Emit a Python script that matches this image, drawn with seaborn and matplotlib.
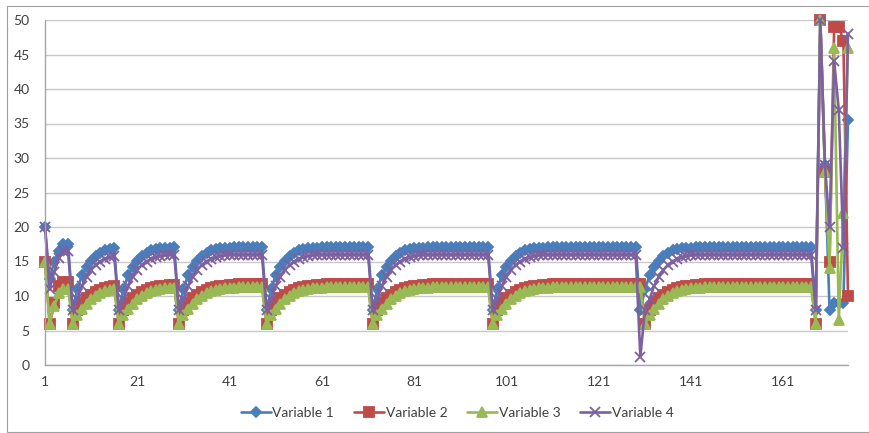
import matplotlib
matplotlib.use("Agg")
import matplotlib.pyplot as plt
import seaborn as sns
from matplotlib.patches import Rectangle


# ==========================================
# DATA
# ==========================================

variable_1 = [
    20,
    12.5, 15, 16.5, 17.5, 17.5,
    8, 11, 13, 14.2, 15.1, 15.8, 16.3, 16.6, 16.8, 16.9,
    8, 11, 13, 14.2, 15.1, 15.8, 16.3, 16.6, 16.8, 16.9, 17.0, 17.0, 17.1,
    8, 11, 13, 14.2, 15.1, 15.8, 16.3, 16.6, 16.8, 16.9, 17.0, 17.0, 17.1,
    17.1, 17.1, 17.1, 17.1, 17.1, 17.1,
    8, 11, 13, 14.2, 15.1, 15.8, 16.3, 16.6, 16.8, 16.9, 17.0, 17.0, 17.1,
    17.1, 17.1, 17.1, 17.1, 17.1, 17.1, 17.1, 17.1, 17.1, 17.1,
    8, 11, 13, 14.2, 15.1, 15.8, 16.3, 16.6, 16.8, 16.9, 17.0, 17.0, 17.1,
    17.1, 17.1, 17.1, 17.1, 17.1, 17.1, 17.1, 17.1, 17.1, 17.1, 17.1, 17.1, 17.1,
    8, 11, 13, 14.2, 15.1, 15.8, 16.3, 16.6, 16.8, 16.9, 17.0, 17.0, 17.1,
    17.1, 17.1, 17.1, 17.1, 17.1, 17.1, 17.1, 17.1, 17.1, 17.1,
    17.1, 17.1, 17.1, 17.1, 17.1, 17.1, 17.1, 17.1, 17.1,
    8, 11, 13, 14.2, 15.1, 15.8, 16.3, 16.6, 16.8, 16.9, 17.0, 17.0, 17.1,
    17.1, 17.1, 17.1, 17.1, 17.1, 17.1, 17.1, 17.1, 17.1, 17.1,
    17.1, 17.1, 17.1, 17.1, 17.1, 17.1, 17.1, 17.1, 17.1, 17.1,
    17.1, 17.1, 17.1, 17.1, 17.1,
    8, 50, 29, 8, 9, 9, 9, 35.5
]

variable_2 = [
    15,
    6, 9, 11.5, 12, 12,
    6, 8, 9, 9.7, 10.2, 10.6, 10.9, 11.1, 11.3, 11.4,
    6, 8, 9, 9.7, 10.2, 10.6, 10.9, 11.1, 11.3, 11.4, 11.5, 11.6, 11.6,
    6, 8, 9, 9.7, 10.2, 10.6, 10.9, 11.1, 11.3, 11.4, 11.5, 11.6, 11.6, 11.7,
    11.7, 11.7, 11.7, 11.7, 11.7,
    6, 8, 9, 9.7, 10.2, 10.6, 10.9, 11.1, 11.3, 11.4, 11.5, 11.6, 11.6, 11.7,
    11.7, 11.7, 11.7, 11.7, 11.7, 11.7, 11.7, 11.7, 11.7,
    6, 8, 9, 9.7, 10.2, 10.6, 10.9, 11.1, 11.3, 11.4, 11.5, 11.6, 11.6, 11.7,
    11.7, 11.7, 11.7, 11.7, 11.7, 11.7, 11.7, 11.7, 11.7, 11.7, 11.7, 11.7,
    6, 8, 9, 9.7, 10.2, 10.6, 10.9, 11.1, 11.3, 11.4, 11.5, 11.6, 11.6, 11.7,
    11.7, 11.7, 11.7, 11.7, 11.7, 11.7, 11.7, 11.7, 11.7,
    11.7, 11.7, 11.7, 11.7, 11.7, 11.7, 11.7, 11.7, 11.7,
    11.7,
    6, 8, 9, 9.7, 10.2, 10.6, 10.9, 11.1, 11.3, 11.4, 11.5, 11.6, 11.6, 11.7,
    11.7, 11.7, 11.7, 11.7, 11.7, 11.7, 11.7, 11.7, 11.7, 11.7,
    11.7, 11.7, 11.7, 11.7, 11.7, 11.7, 11.7, 11.7, 11.7, 11.7,
    11.7, 11.7, 11.7,
    6, 50, 28, 15, 49, 49, 47, 10
]

variable_3 = [
    15,
    6, 8.5, 10.5, 11, 11,
    6, 7.2, 8.1, 8.9, 9.5, 10, 10.4, 10.7, 10.9, 11.0,
    6, 7.2, 8.1, 8.9, 9.5, 10, 10.4, 10.7, 10.9, 11.0, 11.1, 11.2, 11.2,
    6, 7.2, 8.1, 8.9, 9.5, 10, 10.4, 10.7, 10.9, 11.0, 11.1, 11.2, 11.2, 11.3,
    11.3, 11.3, 11.3, 11.3, 11.3,
    6, 7.2, 8.1, 8.9, 9.5, 10, 10.4, 10.7, 10.9, 11.0, 11.1, 11.2, 11.2, 11.3,
    11.3, 11.3, 11.3, 11.3, 11.3, 11.3, 11.3, 11.3, 11.3,
    6, 7.2, 8.1, 8.9, 9.5, 10, 10.4, 10.7, 10.9, 11.0, 11.1, 11.2, 11.2, 11.3,
    11.3, 11.3, 11.3, 11.3, 11.3, 11.3, 11.3, 11.3, 11.3, 11.3, 11.3, 11.3,
    6, 7.2, 8.1, 8.9, 9.5, 10, 10.4, 10.7, 10.9, 11.0, 11.1, 11.2, 11.2, 11.3,
    11.3, 11.3, 11.3, 11.3, 11.3, 11.3, 11.3, 11.3, 11.3,
    11.3, 11.3, 11.3, 11.3, 11.3, 11.3, 11.3, 11.3, 11.3,
    11.3,
    6, 7.2, 8.1, 8.9, 9.5, 10, 10.4, 10.7, 10.9, 11.0, 11.1, 11.2, 11.2, 11.3,
    11.3, 11.3, 11.3, 11.3, 11.3, 11.3, 11.3, 11.3, 11.3, 11.3,
    11.3, 11.3, 11.3, 11.3, 11.3, 11.3, 11.3, 11.3, 11.3, 11.3,
    11.3, 11.3, 11.3,
    6, 50, 28, 14, 46, 6.5, 22, 46
]

variable_4 = [
    20,
    11, 13.5, 15.5, 16.5, 16.5,
    8, 9.5, 11.5, 12.8, 13.8, 14.5, 15.0, 15.4, 15.6, 15.8,
    8, 9.5, 11.5, 12.8, 13.8, 14.5, 15.0, 15.4, 15.6, 15.8, 15.9, 16.0, 16.0,
    8, 9.5, 11.5, 12.8, 13.8, 14.5, 15.0, 15.4, 15.6, 15.8, 15.9, 16.0, 16.0,
    16, 16, 16, 16, 16, 16,
    8, 9.5, 11.5, 12.8, 13.8, 14.5, 15.0, 15.4, 15.6, 15.8, 15.9, 16.0, 16.0,
    16, 16, 16, 16, 16, 16, 16, 16, 16, 16,
    8, 9.5, 11.5, 12.8, 13.8, 14.5, 15.0, 15.4, 15.6, 15.8, 15.9, 16.0, 16.0,
    16, 16, 16, 16, 16, 16, 16, 16, 16, 16, 16, 16, 16,
    8, 9.5, 11.5, 12.8, 13.8, 14.5, 15.0, 15.4, 15.6, 15.8, 15.9, 16.0, 16.0,
    16, 16, 16, 16, 16, 16, 16, 16, 16, 16,
    16, 16, 16, 16, 16, 16, 16, 16, 16,
    1.2,
    8, 9.5, 11.5, 12.8, 13.8, 14.5, 15.0, 15.4, 15.6, 15.8, 15.9, 16.0, 16.0,
    16, 16, 16, 16, 16, 16, 16, 16, 16, 16,
    16, 16, 16, 16, 16, 16, 16, 16, 16, 16,
    16, 16, 16, 16,
    8, 50, 29, 20, 44, 37, 17, 48
]

series_names = ["Variable 1", "Variable 2", "Variable 3", "Variable 4"]
series_colors = ["#4A7EBB", "#BE4B48", "#98B954", "#7D60A0"]
series_markers = ["D", "s", "^", "x"]
marker_sizes = [5.5, 6.5, 7, 7]

x_ticks = [1, 21, 41, 61, 81, 101, 121, 141, 161]
y_ticks = [0, 5, 10, 15, 20, 25, 30, 35, 40, 45, 50]

all_series = [variable_1, variable_2, variable_3, variable_4]

for s in all_series:
    assert len(s) == 175, len(s)


# ==========================================
# FIGURE
# ==========================================

sns.set_style("white")
plt.rcParams["font.family"] = ["Lato", "DejaVu Sans"]

fig = plt.figure(figsize=(8.7, 4.33), dpi=100)
ax = fig.add_axes([45 / 870, 1 - 365 / 433, 803 / 870, 345 / 433])

for values, name, color, marker, msize in zip(
    all_series, series_names, series_colors, series_markers, marker_sizes
):
    sns.lineplot(
        x=list(range(1, len(values) + 1)),
        y=values,
        color=color,
        marker=marker,
        markersize=msize,
        linewidth=1.9,
        label=name,
        legend=False,
        ax=ax
    )

for line in ax.lines:
    line.set_markeredgecolor(line.get_color())
    line.set_markeredgewidth(1.3)
    line.set_clip_on(False)

ax.set_xlim(1, 175)
ax.set_ylim(0, 50)
ax.set_xticks(x_ticks)
ax.set_yticks(y_ticks)
ax.set_xticklabels([str(t) for t in x_ticks])
ax.set_yticklabels([str(t) for t in y_ticks])

ax.yaxis.grid(True, color="#C8C8C8", linewidth=1)
ax.xaxis.grid(False)
ax.set_axisbelow(True)

for side in ["top", "right"]:
    ax.spines[side].set_visible(False)
for side in ["left", "bottom"]:
    ax.spines[side].set_color("#A6A6A6")
    ax.spines[side].set_linewidth(1)

ax.tick_params(
    axis="both", which="major", direction="out", length=4,
    color="#A6A6A6", labelcolor="#404040", labelsize=10
)
ax.tick_params(axis="y", pad=7)
ax.tick_params(axis="x", pad=4)

handles = ax.lines[:4]
fig.legend(
    handles, series_names,
    loc="center", bbox_to_anchor=(457 / 870, 0.046),
    ncol=4, frameon=False, fontsize=10,
    handlelength=2.2, handletextpad=0.1, columnspacing=1.4,
    labelcolor="#404040"
)

fig.patches.append(Rectangle(
    (7.5 / 870, 0.002), 1 - 7.5 / 870 - 0.001, 0.983,
    transform=fig.transFigure, fill=False,
    edgecolor="#A0A0A0", linewidth=0.8
))

fig.savefig("out.png", dpi=100)
